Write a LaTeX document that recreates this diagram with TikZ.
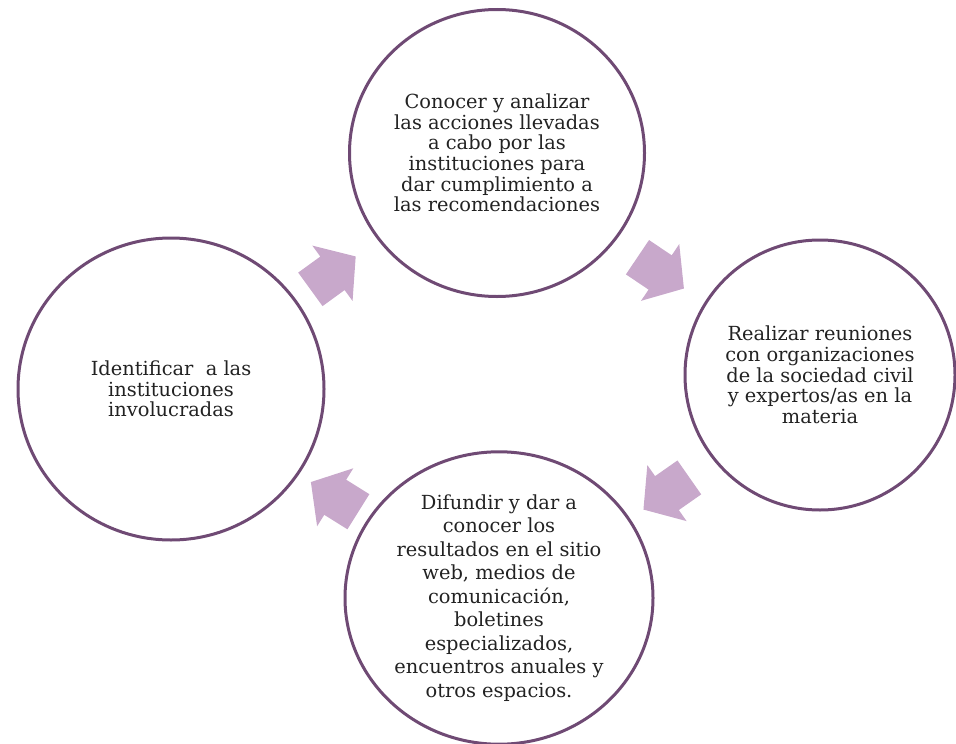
\documentclass[tikz,border=0pt]{standalone}
\usepackage{fontspec}
\setmainfont{DejaVu Serif}
\usepackage{tikz}
\usetikzlibrary{shapes,shapes.geometric,shapes.arrows,positioning,calc}
\definecolor{ringc}{HTML}{6F4A74}
\definecolor{arrowc}{HTML}{C8A8CB}
\definecolor{textc}{HTML}{222222}
\newcommand{\stepfont}{\fontsize{19.4}{20.7}\selectfont}
\newcommand{\bigstepfont}{\fontsize{19.4}{23.5}\selectfont}

\begin{document}
\begin{tikzpicture}
[x=1pt,y=-1pt,
ring/.style={ellipse,draw=ringc,line width=3pt,inner sep=0pt,
text=textc,align=center,font=\stepfont},
turn/.style={single arrow,fill=arrowc,draw=none,inner sep=0pt,
text height=20.5pt,text depth=20.5pt,
minimum height=56pt,minimum width=68pt,single arrow head extend=13.5pt,
single arrow tip angle=100}]
\useasboundingbox (0,0) rectangle (956,744);
%%
\node[ring,minimum width=295pt,minimum height=287pt] (conocer) at (497,153)
{Conocer y analizar\\las acciones llevadas\\a cabo por las\\
instituciones para\\dar cumplimiento a\\las recomendaciones};
%%
\node[ring,minimum width=306pt,minimum height=302pt] (ident) at (171,389)
{Identificar \ a las\\instituciones\\involucradas};
%%
\node[ring,minimum width=270pt,minimum height=270pt] (reunion) at (820,375)
{Realizar reuniones\\con organizaciones\\de la sociedad civil\\
y expertos/as en la\\materia};
%%
\node[ring,minimum width=308pt,minimum height=288pt,font=\bigstepfont]
(difund) at (499,598)
{Difundir y dar a\\conocer los\\resultados en el sitio\\web, medios de\\
comunicación,\\boletines\\especializados,\\encuentros anuales y\\
otros espacios.};
%%
\node[turn,rotate=36] (ida) at ($(ident)!0.5!(conocer)+(-8,7)$) {};
\node[turn,rotate=-34] (idb) at ($(conocer)!0.5!(reunion)+(-5,4)$) {};
\node[turn,rotate=-145] (idc) at ($(reunion)!0.5!(difund)+(14,2)$) {};
\node[turn,rotate=148] (idd) at ($(difund)!0.5!(ident)+(7,8)$) {};
\end{tikzpicture}
\end{document}
